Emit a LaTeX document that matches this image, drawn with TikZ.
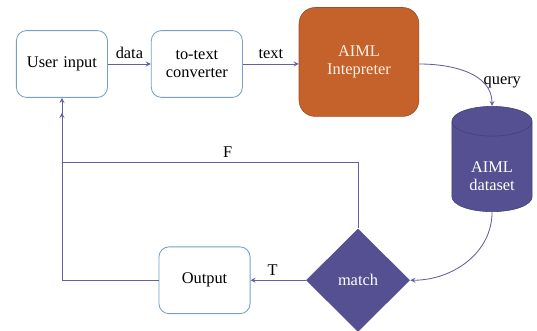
\documentclass[tikz,border=0pt]{standalone}
\usepackage{fontspec}
\setmainfont{Liberation Serif}
\usepackage{tikz}
\usetikzlibrary{shapes.geometric, arrows, positioning}
\definecolor{boxline}{RGB}{120,160,196}
\definecolor{darkpurple}{RGB}{84,80,146}
\definecolor{burnt}{RGB}{197,97,43}
\definecolor{linecol}{RGB}{98,96,160}
\tikzstyle{process} = [rectangle, rounded corners=2.5mm, minimum width=2.25cm, minimum height=1.65cm, text centered, text width=2cm, draw=boxline, line width=0.6pt, fill=white]
\tikzstyle{engine} = [rectangle, rounded corners=4mm, minimum width=2.96cm, minimum height=2.69cm, text centered, text width=2.6cm, draw=burnt!80!black, fill=burnt, text=white!90!orange]
\tikzstyle{database} = [cylinder, shape border rotate=90, aspect=0.4, minimum width=1.98cm, minimum height=2.6cm, text centered, text width=1.6cm, draw=darkpurple!80!black, fill=darkpurple, text=white]
\tikzstyle{decision} = [diamond, minimum width=2.57cm, minimum height=2.55cm, inner sep=0pt, text centered, fill=darkpurple, text=white]
\tikzstyle{arrow} = [line width=0.6pt, ->, >=stealth, draw=linecol]

\begin{document}
\begin{tikzpicture}[font=\fontsize{11.5}{13}\selectfont]
\useasboundingbox (0,0) rectangle (13.26,-8.17);

\node (user) [process] at (1.53,-1.58) {User input};
\node (convert) [process, right=1.06cm of user] {to-text\\converter};
\node (interp) [engine, right=1.38cm of convert, yshift=0.05cm] {AIML\\Intepreter};
\node (data) [database] at (12.15,-4.2) {};
\node [text=white, align=center] at ([yshift=-0.15cm]data.center) {AIML\\dataset};
\node (match) [decision] at (8.84,-6.92) {match};
\node (output) [process] at (5.05,-6.92) {Output};

\draw [arrow] (user) -- node[above] {data} (convert);
\draw [arrow] (convert) -- node[above] {text} (interp.west |- convert);
\draw [arrow] (interp.east |- user) to[out=0, in=90] node[pos=0.7, right, xshift=-0.1cm] {query} (data.top);
\draw [arrow] (data.bottom) to[out=-90, in=0] (match.east);
\draw [arrow] (match) -- node[above, pos=0.6] {T} (output);
\draw [arrow] (match.north) -- ++(0,1.63) -| node[above, pos=0.22] {F} ([yshift=-0.37cm]user.south);
\draw [arrow] (output.west) -| (user.south);

\end{tikzpicture}
\end{document}
